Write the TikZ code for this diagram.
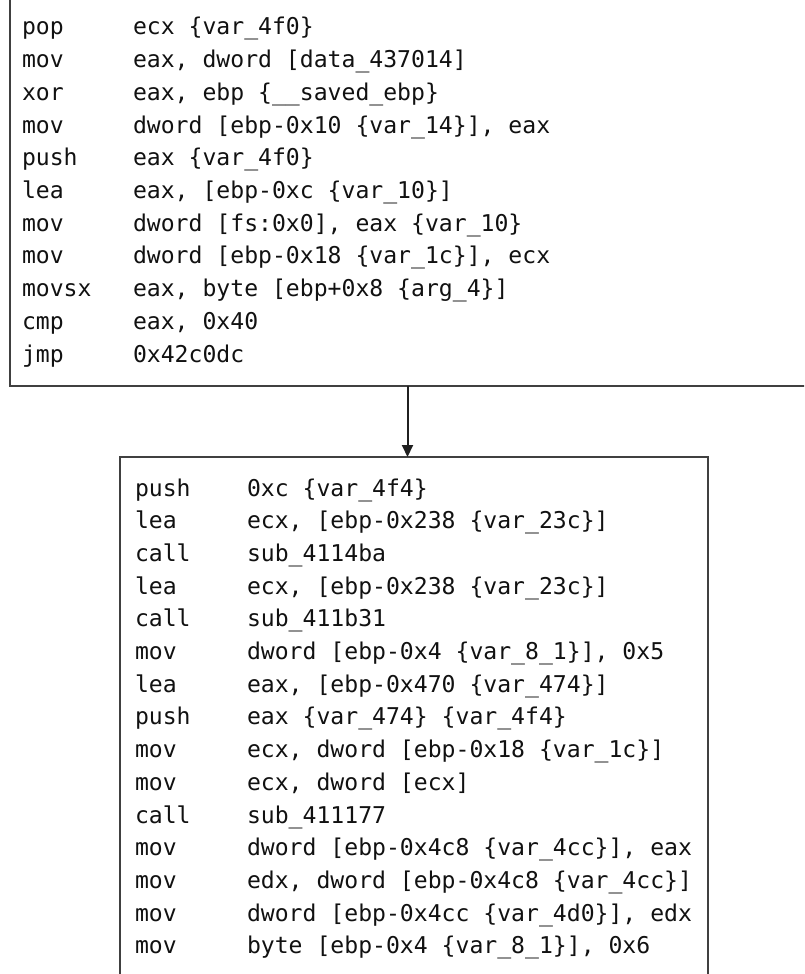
\documentclass[tikz,border=0pt]{standalone}
\usepackage{fontspec}
\setmonofont{DejaVu Sans Mono}
\usetikzlibrary{arrows.meta}
\definecolor{edgegray}{HTML}{404040}
\definecolor{arrowblack}{HTML}{202020}
\definecolor{textblack}{HTML}{111111}
\frenchspacing
\newcommand\toprow[3]{%
  \node[asm] (t#1m) at (22,{-(35+32.7*#1)}) {#2};
  \node[asm] (t#1o) at (133,{-(35+32.7*#1)}) {#3};}
\newcommand\botrow[3]{%
  \node[asm] (b#1m) at (135,{-(496+32.7*#1)}) {#2};
  \node[asm] (b#1o) at (247,{-(496+32.7*#1)}) {#3};}
\begin{document}
\begin{tikzpicture}[x=1pt,y=1pt,
  asm/.style={anchor=base west, inner sep=0pt, outer sep=0pt, text=textblack,
    font=\ttfamily\fontsize{23.1}{28}\selectfont},
  codebox/.style={draw=edgegray, line width=2pt, rectangle, inner sep=0pt, outer sep=0pt, fill=white},
  flow/.style={draw=arrowblack, line width=2pt, -{Triangle[length=12pt,width=11pt]}}]
\useasboundingbox (0,0) rectangle (804,-974);
\clip (0,0) rectangle (804,-974);
\fill[white] (0,0) rectangle (804,-974);
% boxes
\node[codebox, anchor=north west, minimum width=830pt, minimum height=416pt] (topbox) at (10,30) {};
\node[codebox, anchor=north west, minimum width=588pt, minimum height=560pt] (botbox) at (120,-457) {};
\coordinate (ax) at (407.5,0);
\draw[flow] (topbox.south -| ax) -- (botbox.north -| ax);
% top block
\toprow{0}{pop}{ecx \{var\_4f0\}}
\toprow{1}{mov}{eax, dword [data\_437014]}
\toprow{2}{xor}{eax, ebp \{\_\_saved\_ebp\}}
\toprow{3}{mov}{dword [ebp-0x10 \{var\_14\}], eax}
\toprow{4}{push}{eax \{var\_4f0\}}
\toprow{5}{lea}{eax, [ebp-0xc \{var\_10\}]}
\toprow{6}{mov}{dword [fs:0x0], eax \{var\_10\}}
\toprow{7}{mov}{dword [ebp-0x18 \{var\_1c\}], ecx}
\toprow{8}{movsx}{eax, byte [ebp+0x8 \{arg\_4\}]}
\toprow{9}{cmp}{eax, 0x40}
\toprow{10}{jmp}{0x42c0dc}
% bottom block
\botrow{0}{push}{0xc \{var\_4f4\}}
\botrow{1}{lea}{ecx, [ebp-0x238 \{var\_23c\}]}
\botrow{2}{call}{sub\_4114ba}
\botrow{3}{lea}{ecx, [ebp-0x238 \{var\_23c\}]}
\botrow{4}{call}{sub\_411b31}
\botrow{5}{mov}{dword [ebp-0x4 \{var\_8\_1\}], 0x5}
\botrow{6}{lea}{eax, [ebp-0x470 \{var\_474\}]}
\botrow{7}{push}{eax \{var\_474\} \{var\_4f4\}}
\botrow{8}{mov}{ecx, dword [ebp-0x18 \{var\_1c\}]}
\botrow{9}{mov}{ecx, dword [ecx]}
\botrow{10}{call}{sub\_411177}
\botrow{11}{mov}{dword [ebp-0x4c8 \{var\_4cc\}], eax}
\botrow{12}{mov}{edx, dword [ebp-0x4c8 \{var\_4cc\}]}
\botrow{13}{mov}{dword [ebp-0x4cc \{var\_4d0\}], edx}
\botrow{14}{mov}{byte [ebp-0x4 \{var\_8\_1\}], 0x6}
\end{tikzpicture}
\end{document}
